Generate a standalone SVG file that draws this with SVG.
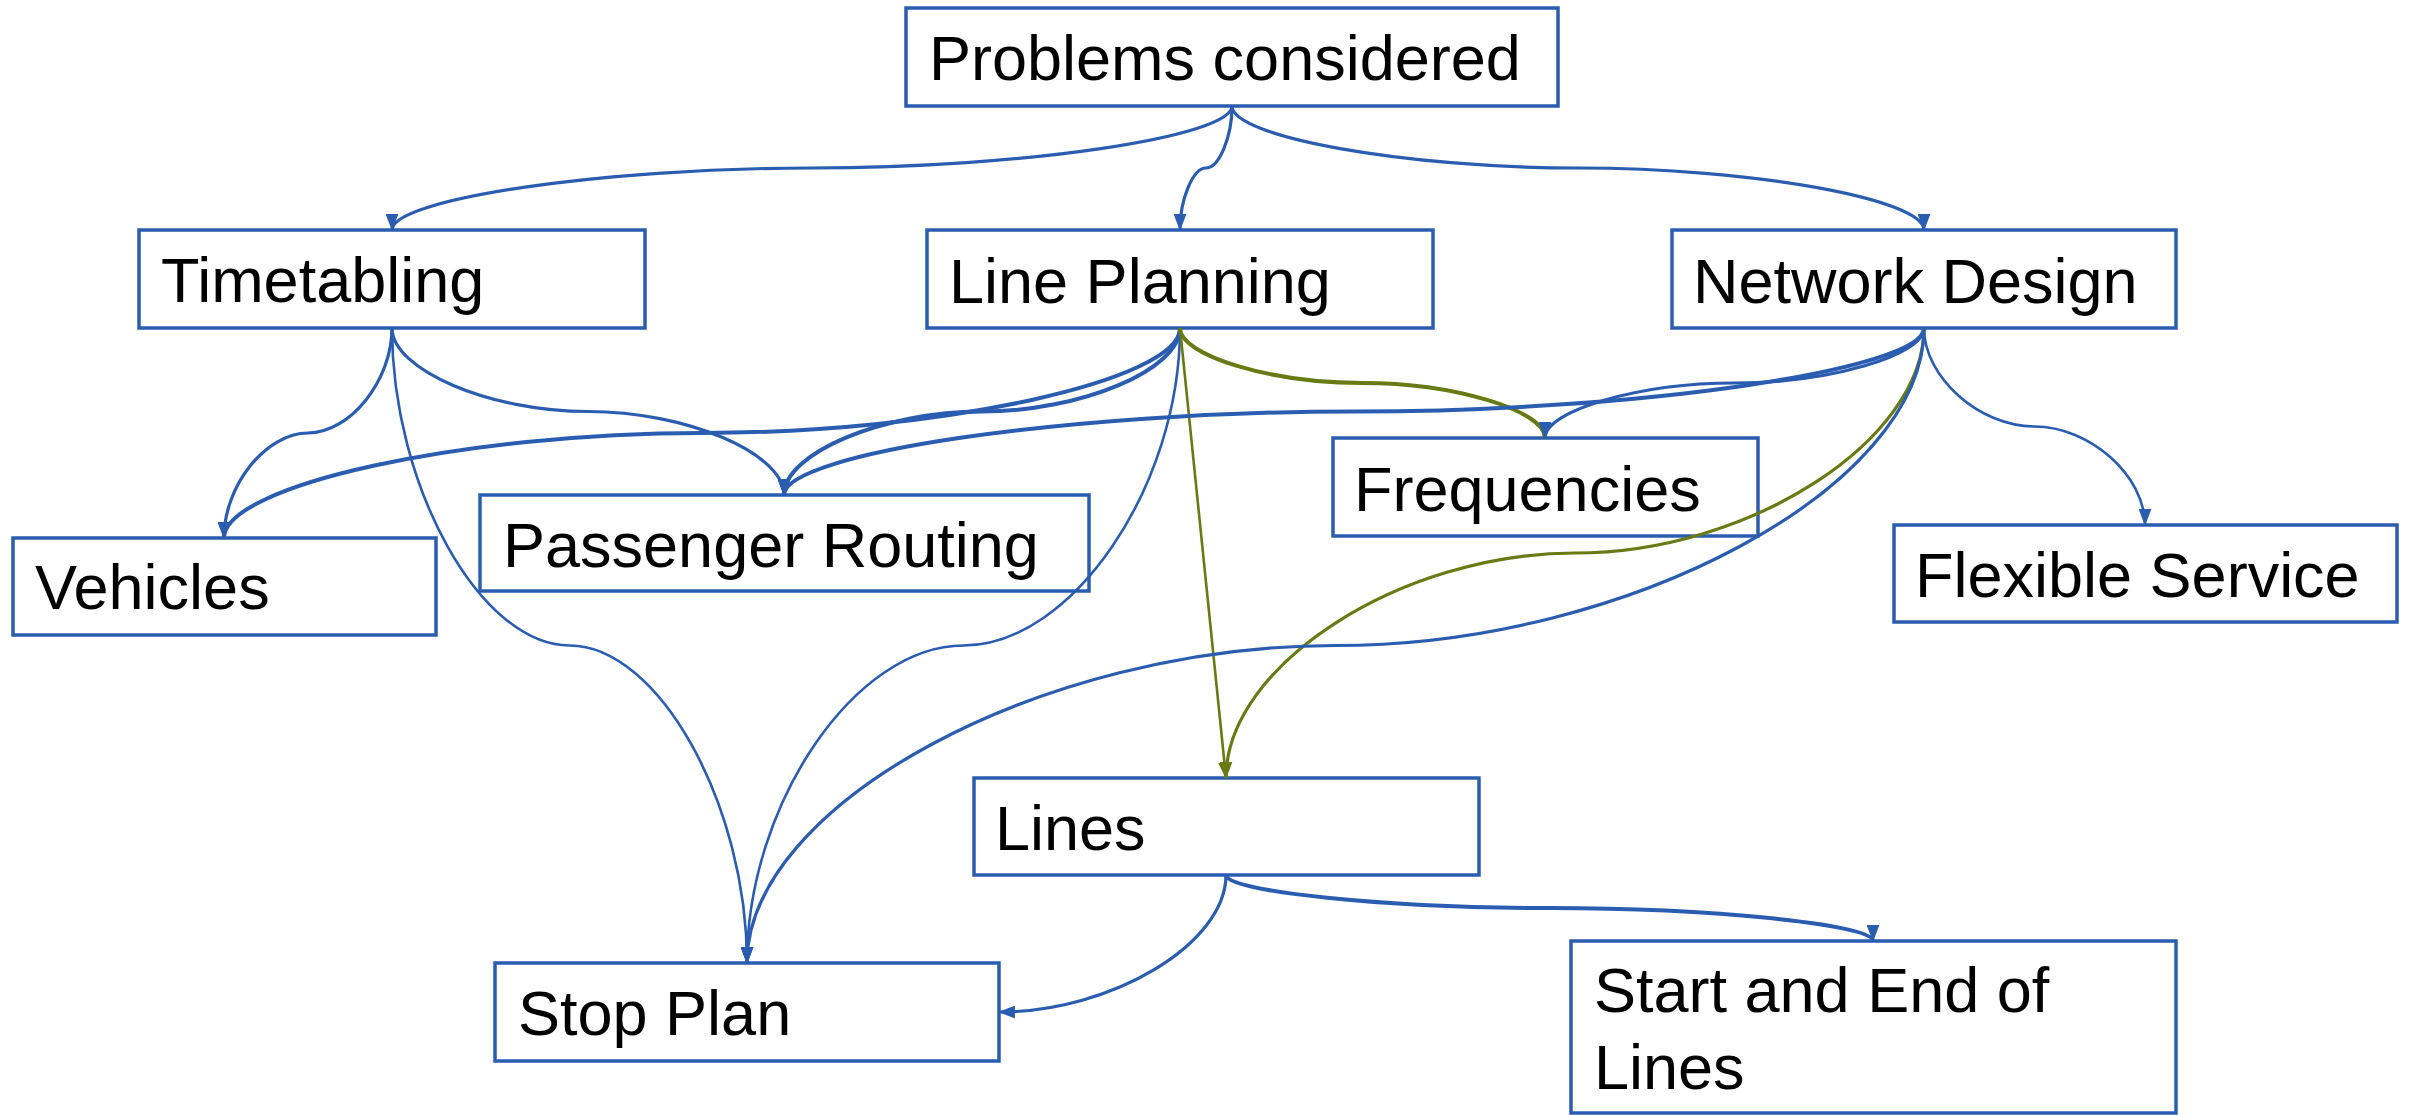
<svg xmlns="http://www.w3.org/2000/svg" width="2415" height="1115" viewBox="0 0 2415 1115">
  <style>
    .box { fill: #ffffff; stroke: #2a5db0; stroke-width: 3.5; }
    .lbl { font-family: "Liberation Sans", Arial, sans-serif; font-size: 63px; fill: #000000; }
    .e { fill: none; stroke: #2a5db0; stroke-width: 3.2; marker-end: url(#arrowBlue); }
    .g { fill: none; stroke: #687a14; stroke-width: 3.2; marker-end: url(#arrowGreen); }
    .thin { stroke-width: 2.6; }
    .thick { stroke-width: 4; }
  </style>
  <defs>
    <marker id="arrowBlue" markerUnits="userSpaceOnUse" viewBox="0 0 16 12" markerWidth="17" markerHeight="13" refX="15" refY="6" orient="auto">
      <path d="M0,0 L16,6 L0,12 z" fill="#2a5db0"/>
    </marker>
    <marker id="arrowGreen" markerUnits="userSpaceOnUse" viewBox="0 0 16 12" markerWidth="17" markerHeight="13" refX="15" refY="6" orient="auto">
      <path d="M0,0 L16,6 L0,12 z" fill="#687a14"/>
    </marker>
  </defs>

  <rect width="2415" height="1115" fill="#ffffff"/>

  <g id="problems-considered">
    <rect class="box" x="906" y="8" width="652" height="98"/>
    <text class="lbl" x="929" y="80">Problems considered</text>
  </g>
  <g id="timetabling">
    <rect class="box" x="139" y="230" width="506" height="98"/>
    <text class="lbl" x="161" y="302">Timetabling</text>
  </g>
  <g id="line-planning">
    <rect class="box" x="927" y="230" width="506" height="98"/>
    <text class="lbl" x="949" y="303">Line Planning</text>
  </g>
  <g id="network-design">
    <rect class="box" x="1672" y="230" width="504" height="98"/>
    <text class="lbl" x="1693" y="303">Network Design</text>
  </g>
  <g id="vehicles">
    <rect class="box" x="13" y="538" width="423" height="97"/>
    <text class="lbl" x="35" y="609">Vehicles</text>
  </g>
  <g id="passenger-routing">
    <rect class="box" x="480" y="495" width="609" height="96"/>
    <text class="lbl" x="503" y="567">Passenger Routing</text>
  </g>
  <g id="frequencies">
    <rect class="box" x="1333" y="438" width="425" height="98"/>
    <text class="lbl" x="1354" y="511">Frequencies</text>
  </g>
  <g id="flexible-service">
    <rect class="box" x="1894" y="525" width="503" height="97"/>
    <text class="lbl" x="1915" y="597">Flexible Service</text>
  </g>
  <g id="lines">
    <rect class="box" x="974" y="778" width="505" height="97"/>
    <text class="lbl" x="995" y="850">Lines</text>
  </g>
  <g id="stop-plan">
    <rect class="box" x="495" y="963" width="504" height="98"/>
    <text class="lbl" x="518" y="1035">Stop Plan</text>
  </g>
  <g id="start-end-lines">
    <rect class="box" x="1571" y="941" width="605" height="172"/>
    <text class="lbl" x="1594" y="1012">Start and End of</text>
    <text class="lbl" x="1594" y="1089">Lines</text>
  </g>

  <!-- connectors: two-bend curved connectors, horizontal at their midpoint; drawn over the boxes -->
  <g id="connectors">
    <path id="pc-tt" class="e" d="M1232,106 C1232,137 1022,168 812,168 C602,168 392,199 392,230"/>
    <path id="pc-lp" class="e" d="M1232,106 C1232,137 1219,168 1206,168 C1193,168 1180,199 1180,230"/>
    <path id="pc-nd" class="e" d="M1232,106 C1232,137 1405,168 1578,168 C1751,168 1924,199 1924,230"/>

    <path id="tt-veh" class="e" d="M392,328 C392,380.5 350,433 308,433 C266,433 224,485.5 224,538"/>
    <path id="tt-pr" class="e" d="M392,328 C392,369.75 490,411.5 588,411.5 C686,411.5 784,453.25 784,495"/>
    <path id="tt-sp" class="e thin" d="M392,328 C392,486.75 480.75,645.5 569.5,645.5 C658.25,645.5 747,804.25 747,963"/>

    <path id="lp-veh" class="e thick" d="M1180,328 C1180,380.5 941,433 702,433 C463,433 224,485.5 224,538"/>
    <path id="lp-pr" class="e thick" d="M1180,328 C1180,369.75 1081,411.5 982,411.5 C883,411.5 784,453.25 784,495"/>
    <path id="lp-sp" class="e thin" d="M1180,328 C1180,486.75 1071.75,645.5 963.5,645.5 C855.25,645.5 747,804.25 747,963"/>
    <path id="lp-freq" class="g thick" d="M1180,328 C1180,355.5 1271.25,383 1362.5,383 C1453.75,383 1545,410.5 1545,438"/>
    <path id="lp-lines" class="g thin" d="M1180,328 L1226,778"/>

    <path id="nd-freq" class="e" d="M1924,328 C1924,355.5 1829.25,383 1734.5,383 C1639.75,383 1545,410.5 1545,438"/>
    <path id="nd-pr" class="e thick" d="M1924,328 C1924,369.75 1639,411.5 1354,411.5 C1069,411.5 784,453.25 784,495"/>
    <path id="nd-fs" class="e thin" d="M1924,328 C1924,377.25 1979.25,426.5 2034.5,426.5 C2089.75,426.5 2145,475.75 2145,525"/>
    <path id="nd-lines" class="g" d="M1924,328 C1924,440.5 1749.5,553 1575,553 C1400.5,553 1226,665.5 1226,778"/>
    <path id="nd-sp" class="e" d="M1924,328 C1924,486.75 1629.75,645.5 1335.5,645.5 C1041.25,645.5 747,804.25 747,963"/>

    <path id="lines-sp" class="e" d="M1226,875 C1226,943.5 1112.5,1012 999,1012"/>
    <path id="lines-se" class="e thick" d="M1226,875 C1226,891.5 1387.75,908 1549.5,908 C1711.25,908 1873,924.5 1873,941"/>
  </g>
</svg>
